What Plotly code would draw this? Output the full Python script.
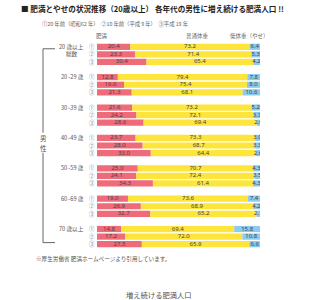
import plotly.graph_objects as go

groups = ["20 歳以上", "20~29 歳", "30~39 歳", "40~49 歳", "50~59 歳", "60~69 歳", "70 歳以上"]
obese = [20.4, 23.3, 30.4, 12.8, 16.6, 21.3, 21.6, 24.2, 28.6, 23.7, 28.0, 33.0,
         25.0, 24.1, 34.3, 19.0, 26.9, 32.7, 14.8, 17.2, 27.5]
normal = [73.2, 71.4, 65.4, 79.4, 75.4, 68.1, 73.2, 72.1, 69.4, 73.3, 68.7, 64.4,
          70.7, 72.4, 61.4, 73.6, 68.9, 65.2, 69.4, 72.0, 65.9]
under = [6.4, 5.3, 4.2, 7.8, 8.0, 10.6, 5.2, 3.7, 2.0, 3.0, 3.3, 2.6,
         4.3, 3.5, 4.3, 7.4, 4.2, 2.1, 15.8, 10.8, 6.6]
markers = ["①", "②", "③"]
series_names = ["肥満", "普通体重", "低体重（やせ）"]

W, H = 323, 300
L, R = 97, 260
T, B = 43.2, 248.4

def px(x):
    return (x - L) / (R - L)

def py(y):
    return 1 - (y - T) / (B - T)

rows = [g * 4 + i for g in range(len(groups)) for i in range(3)]

RED, YEL, BLU = "#ef6b79", "#fde53b", "#8bcbf1"
fig = go.Figure()
for vals, base, col, nm in [
    (obese, [0] * len(obese), RED, series_names[0]),
    (normal, obese, YEL, series_names[1]),
    (under, [a + b for a, b in zip(obese, normal)], BLU, series_names[2]),
]:
    fig.add_trace(go.Bar(x=vals, y=rows, base=base, orientation="h", marker_color=col,
                         marker_line_width=0, width=0.82, name=nm, showlegend=False))
    fig.add_trace(go.Scatter(x=[b + v / 2 for b, v in zip(base, vals)], y=rows, mode="text",
                             text=[f"{v:.1f}" for v in vals], showlegend=False,
                             textfont=dict(size=6, color="#444", family="Noto Sans")))

font = "Noto Sans CJK JP"
ann = []
def A(x, y, t, size=6, color="#555", xanchor="center", bold=False):
    ann.append(dict(x=px(x), y=py(y), xref="paper", yref="paper", text=f"<b>{t}</b>" if bold else t,
                    showarrow=False, xanchor=xanchor, yanchor="middle", borderpad=0,
                    font=dict(size=size, color=color, family=font)))

A(20, 9, "■ 肥満とやせの状況推移（20歳以上） 各年代の男性に増え続ける肥満人口 !!", 7.6, "#222", "left", True)
A(41, 24, "①20 年前（昭和62 年）　②10 年前（平成 9 年）　③平成 19 年", 5.3, "#666", "left")
A(102, 36, series_names[0], 5.5, "#666")
A(197, 36, series_names[1], 5.5, "#666")
A(249, 36, series_names[2], 5.5, "#666")
for g, name in enumerate(groups):
    y0 = 47 + g * 4 * 7.6
    A(85, y0, name, 5.6, "#555", "right")
    for i, m in enumerate(markers):
        A(91.5, y0 + i * 7.6, m, 5.3, "#777")
A(72, 54.6, "総数", 5.6, "#555")
A(43.5, 138, "男", 6.5, "#555")
A(43.5, 148, "性", 6.5, "#555")
A(35, 259, "※厚生労働省 肥満ホームページより引用しています。", 5.6, "#555", "left")
A(159, 295, "増え続ける肥満人口", 7.3, "#555")

shapes = []
def line(x0, y0, x1, y1):
    shapes.append(dict(type="line", xref="paper", yref="paper", x0=px(x0), y0=py(y0),
                       x1=px(x1), y1=py(y1), line=dict(color="#666", width=1)))
line(43, 49, 55, 49)
line(43, 49, 43, 133)
line(43, 153, 43, 243)
line(43, 243, 55, 243)

fig.update_layout(
    width=W, height=H, margin=dict(l=L, r=W - R, t=T, b=H - B, pad=0),
    paper_bgcolor="white", plot_bgcolor="white", barmode="overlay",
    xaxis=dict(range=[0, 100], visible=False, fixedrange=True),
    yaxis=dict(range=[26.5, -0.5], visible=False, fixedrange=True),
    annotations=ann, shapes=shapes, showlegend=False,
)
fig.write_html("out.html", config={"displayModeBar": False})
